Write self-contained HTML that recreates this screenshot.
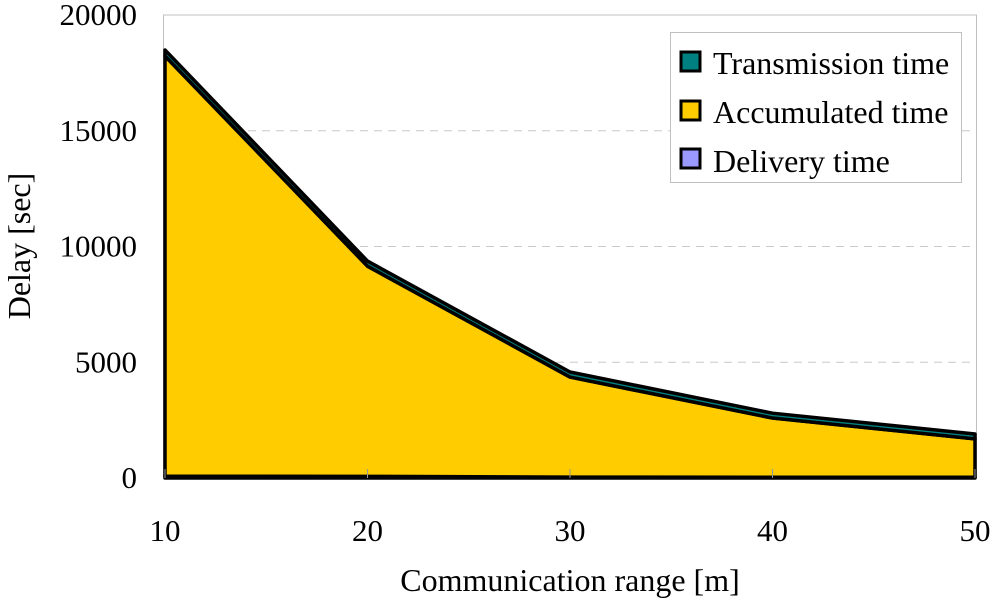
<!DOCTYPE html>
<html><head><meta charset="utf-8"><style>body{margin:0;background:#fff}svg{display:block;font-family:"Liberation Serif",serif}</style></head>
<body>
<svg id="chart" width="1000" height="609">
<rect x="163.5" y="15" width="813" height="463" fill="#fff" stroke="#c0c0c0"/>
<g id="grid"></g>
<g id="areas"></g>
<g id="axes"></g>
<text x="30" y="246" transform="rotate(-90 30 246)" font-size="32" text-anchor="middle">Delay [sec]</text>
<text x="570" y="591" font-size="32" text-anchor="middle">Communication range [m]</text>
<g>
<rect x="670.5" y="32.5" width="291" height="150" fill="#fff" stroke="#c0c0c0"/>
<rect x="681" y="52" width="19" height="19" fill="#008080" stroke="#000" stroke-width="3"/>
<text x="713" y="74" font-size="32">Transmission time</text>
<rect x="681" y="101" width="19" height="19" fill="#ffcc00" stroke="#000" stroke-width="3"/>
<text x="713" y="123" font-size="32">Accumulated time</text>
<rect x="681" y="149" width="19" height="19" fill="#9999ff" stroke="#000" stroke-width="3"/>
<text x="713" y="172" font-size="32">Delivery time</text>
</g>
</svg>
<script>
const categories = [10, 20, 30, 40, 50];
const delivery = [80, 70, 40, 30, 30];
const accumulated = [18150, 9080, 4320, 2560, 1660];
const transmission = [260, 220, 220, 210, 210];
const yTicks = [0, 5000, 10000, 15000, 20000];
const NS = "http://www.w3.org/2000/svg";
const xs = v => 165 + (v - 10) * 20.25;
const ys = v => 478 - v / 20000 * 463;
function mk(tag, attrs, parent) { const e = document.createElementNS(NS, tag); for (const k in attrs) e.setAttribute(k, attrs[k]); parent.appendChild(e); return e; }
const grid = document.getElementById('grid'), areas = document.getElementById('areas'), axes = document.getElementById('axes');
yTicks.forEach(t => {
  if (t > 0 && t < 20000) {
    const l = mk('line', {x1: 164, x2: 976, y1: ys(t), y2: ys(t), stroke: '#c8c8c8', 'stroke-dasharray': '8,6'}, grid);
    
    
  }
  const tx = mk('text', {x: 137, y: ys(t) + 10, 'font-size': 31, 'text-anchor': 'end'}, axes);
  tx.textContent = t;
  
  
});
categories.forEach(c => {
  const tx = mk('text', {x: xs(c), y: 541, 'font-size': 31, 'text-anchor': 'middle'}, axes);
  tx.textContent = c;
  
  
  const tk = mk('line', {x1: xs(c), x2: xs(c), y1: 469, y2: 478, stroke: '#999'}, axes);
  
  
});
const series = [[delivery, '#9999ff', 'area-delivery'], [accumulated, '#ffcc00', 'area-accumulated'], [transmission, '#008080', 'area-transmission']];
let base = categories.map(() => 0);
series.forEach(([vals, col, name]) => {
  const top = base.map((b, i) => b + vals[i]);
  let d = categories.map((c, i) => (i ? 'L' : 'M') + xs(c) + ',' + ys(top[i])).join('');
  for (let i = categories.length - 1; i >= 0; i--) d += 'L' + xs(categories[i]) + ',' + ys(base[i]);
  const p = mk('path', {d: d + 'Z', fill: col, stroke: '#000', 'stroke-width': 3.5, 'stroke-linejoin': 'round'}, areas);
  
  
  base = top;
});
</script>
</body></html>
